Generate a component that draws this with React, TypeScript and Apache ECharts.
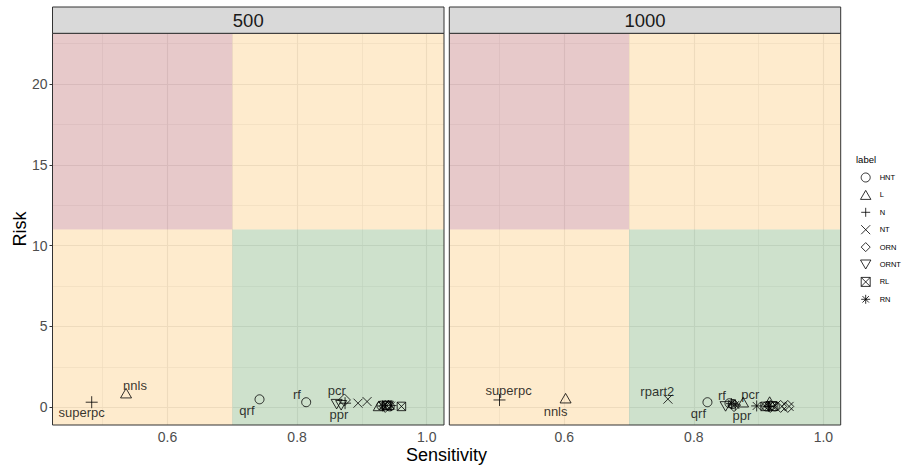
import React, { useEffect, useRef } from 'react';
import * as echarts from 'echarts';

// ---------------- data ----------------
const panels = ['500', '1000'];
const shapeLabels = ['HNT', 'L', 'N', 'NT', 'ORN', 'ORNT', 'RL', 'RN'];

const xTickLabels = [0.6, 0.8, 1.0];
const yTickLabels = [0, 5, 10, 15, 20];
const xGridMajor = [0.6, 0.8, 1.0];
const xGridMinor = [0.5, 0.7, 0.9];
const yGridMajor = [0, 5, 10, 15, 20];
const yGridMinor = [2.5, 7.5, 12.5, 17.5, 22.5];

const sensThreshold = 0.7;
const riskThreshold = 11;

// panel "500"
const names500 = ['superpc', 'nnls', 'qrf', 'rf', 'pcr', 'ppr', '', '', '', '', '', '', '', '', '', '', '', '', '', '', ''];
const shapes500 = ['N', 'L', 'HNT', 'HNT', 'ORN', 'ORNT', 'ORNT', 'N', 'NT', 'NT', 'L', 'HNT', 'RN', 'NT', 'ORN', 'RL', 'ORNT', 'L', 'HNT', 'RN', 'RL'];
const sens500 = [0.483, 0.536, 0.742, 0.814, 0.873, 0.861, 0.868, 0.874, 0.894, 0.908, 0.926, 0.930, 0.932, 0.934, 0.936, 0.938, 0.940, 0.941, 0.943, 0.945, 0.961];
const risk500 = [0.31, 0.87, 0.49, 0.31, 0.45, 0.19, 0.12, 0.25, 0.25, 0.35, 0.08, 0.10, 0.08, 0.12, 0.05, 0.10, 0.08, 0.15, 0.05, 0.10, 0.05];

// panel "1000"
const names1000 = ['superpc', 'nnls', 'rpart2', 'qrf', 'rf', 'pcr', 'ppr', '', '', '', '', '', '', '', '', '', '', '', '', '', '', '', '', ''];
const shapes1000 = ['N', 'L', 'NT', 'HNT', 'HNT', 'L', 'RN', 'ORNT', 'HNT', 'RN', 'ORN', 'RN', 'L', 'RL', 'HNT', 'RN', 'ORN', 'ORNT', 'RL', 'HNT', 'ORN', 'NT', 'ORN', 'NT'];
const sens1000 = [0.500, 0.602, 0.760, 0.821, 0.855, 0.876, 0.864, 0.849, 0.860, 0.858, 0.862, 0.897, 0.917, 0.910, 0.912, 0.915, 0.918, 0.920, 0.922, 0.925, 0.934, 0.936, 0.945, 0.947];
const risk1000 = [0.45, 0.56, 0.50, 0.31, 0.25, 0.31, 0.14, 0.05, 0.20, 0.22, 0.10, 0.08, 0.35, 0.05, 0.05, 0.05, 0.05, 0.05, 0.05, 0.05, 0.05, 0.05, 0.05, 0.05];

// ---------------- layout / style ----------------
const X_MIN = 0.4225;
const X_MAX = 1.0267;
const Y_MIN = -1.1;
const Y_MAX = 23.14;

const FONT = '"Liberation Sans", Arial, Helvetica, sans-serif';

const gridBoxes = [
  { left: 52.5, top: 33.3, width: 391.5, height: 391.7 },
  { left: 449.3, top: 33.3, width: 391.4, height: 391.7 },
];
const STRIP_TOP = 7;

const labelOffsets: Record<string, [number, number]> = {
  '500|superpc': [-10, 10.5],
  '500|nnls': [9, -7.6],
  '500|qrf': [-12.6, 11.4],
  '500|rf': [-9.3, -7.3],
  '500|pcr': [-7.6, -9.3],
  '500|ppr': [2.3, 10.7],
  '1000|superpc': [9, -9.3],
  '1000|nnls': [-10, 13.4],
  '1000|rpart2': [-10.6, -7.6],
  '1000|qrf': [-9, 11],
  '1000|rf': [-7.6, -7.3],
  '1000|pcr': [7.3, -7.3],
  '1000|ppr': [6.7, 10.7],
};

const symbolOf: Record<string, { symbol: string; size: number }> = {
  HNT: { symbol: 'circle', size: 9 },
  L: { symbol: 'path://M0,-1L0.866,0.5L-0.866,0.5Z', size: 11 },
  N: { symbol: 'path://M-1,0L1,0M0,-1L0,1', size: 12 },
  NT: { symbol: 'path://M-1,-1L1,1M-1,1L1,-1', size: 9 },
  ORN: { symbol: 'path://M0,-1L1,0L0,1L-1,0Z', size: 12 },
  ORNT: { symbol: 'path://M0,1L0.866,-0.5L-0.866,-0.5Z', size: 11 },
  RL: { symbol: 'path://M-1,-1L1,-1L1,1L-1,1ZM-1,-1L1,1M-1,1L1,-1', size: 8.5 },
  RN: { symbol: 'path://M-1,0L1,0M0,-1L0,1M-0.72,-0.72L0.72,0.72M-0.72,0.72L0.72,-0.72', size: 11 },
};

function buildOption() {
  const panelData = [
    { names: names500, shapes: shapes500, sens: sens500, risk: risk500 },
    { names: names1000, shapes: shapes1000, sens: sens1000, risk: risk1000 },
  ];

  const series: any[] = [];
  panels.forEach((p, i) => {
    // grid lines
    const lines: any[] = [];
    xGridMajor.forEach((v) => lines.push({ xAxis: v, lineStyle: { color: '#EBEBEB', width: 1.1, type: 'solid' } }));
    xGridMinor.forEach((v) => lines.push({ xAxis: v, lineStyle: { color: '#EBEBEB', width: 0.6, type: 'solid' } }));
    yGridMajor.forEach((v) => lines.push({ yAxis: v, lineStyle: { color: '#EBEBEB', width: 1.1, type: 'solid' } }));
    yGridMinor.forEach((v) => lines.push({ yAxis: v, lineStyle: { color: '#EBEBEB', width: 0.6, type: 'solid' } }));
    series.push({
      type: 'scatter',
      name: '__grid' + i,
      xAxisIndex: i,
      yAxisIndex: i,
      data: [],
      silent: true,
      z: 1,
      markLine: { silent: true, z: 1, symbol: ['none', 'none'], label: { show: false }, data: lines, animation: false },
    });
    // regions
    series.push({
      type: 'scatter',
      name: '__region' + i,
      xAxisIndex: i,
      yAxisIndex: i,
      data: [],
      silent: true,
      z: 2,
      markArea: {
        silent: true,
        z: 2,
        animation: false,
        data: [
          [{ coord: [X_MIN, riskThreshold], itemStyle: { color: 'rgba(160,40,45,0.25)' } }, { coord: [sensThreshold, Y_MAX] }],
          [{ coord: [sensThreshold, riskThreshold], itemStyle: { color: 'rgba(250,155,5,0.2)' } }, { coord: [X_MAX, Y_MAX] }],
          [{ coord: [X_MIN, Y_MIN], itemStyle: { color: 'rgba(250,155,5,0.2)' } }, { coord: [sensThreshold, riskThreshold] }],
          [{ coord: [sensThreshold, Y_MIN], itemStyle: { color: 'rgba(59,135,51,0.25)' } }, { coord: [X_MAX, riskThreshold] }],
        ],
      },
    });
    // points by shape
    const d = panelData[i];
    shapeLabels.forEach((s) => {
      const items: any[] = [];
      d.shapes.forEach((sh, k) => {
        if (sh !== s) return;
        const nm = d.names[k];
        const item: any = { value: [d.sens[k], d.risk[k]], name: nm };
        if (nm) {
          item.label = { show: true, offset: labelOffsets[p + '|' + nm] || [0, -10] };
        }
        items.push(item);
      });
      series.push({
        type: 'scatter',
        name: s,
        xAxisIndex: i,
        yAxisIndex: i,
        z: 5,
        symbol: symbolOf[s].symbol,
        symbolSize: symbolOf[s].size,
        symbolKeepAspect: true,
        itemStyle: { color: 'rgba(0,0,0,0)', borderColor: '#000', borderWidth: 1 },
        label: {
          show: false,
          position: 'inside',
          formatter: '{b}',
          color: '#000',
          fontSize: 13,
          fontFamily: FONT,
        },
        emphasis: { disabled: true },
        data: items,
      });
    });
  });

  const xAxis = panels.map((_, i) => ({
    type: 'value',
    gridIndex: i,
    min: X_MIN,
    max: X_MAX,
    axisLine: { show: false },
    splitLine: { show: false },
    axisTick: { show: true, length: 3, lineStyle: { color: '#333', width: 1 }, customValues: xTickLabels },
    axisLabel: {
      customValues: xTickLabels,
      color: '#4D4D4D',
      fontSize: 14,
      fontFamily: FONT,
      margin: 5,
      formatter: (v: number) => v.toFixed(1),
    },
  }));
  const yAxis = panels.map((_, i) => ({
    type: 'value',
    gridIndex: i,
    min: Y_MIN,
    max: Y_MAX,
    axisLine: { show: false },
    splitLine: { show: false },
    axisTick: { show: i === 0, length: 3, lineStyle: { color: '#333', width: 1 }, customValues: yTickLabels },
    axisLabel: {
      show: i === 0,
      customValues: yTickLabels,
      color: '#4D4D4D',
      fontSize: 14,
      fontFamily: FONT,
      margin: 5,
      formatter: (v: number) => String(v),
    },
  }));

  const graphic: any[] = [];
  panels.forEach((p, i) => {
    const g = gridBoxes[i];
    graphic.push({
      type: 'rect',
      z: 100,
      silent: true,
      shape: { x: g.left, y: g.top, width: g.width, height: g.height },
      style: { fill: 'none', stroke: '#333', lineWidth: 1 },
    });
    graphic.push({
      type: 'rect',
      z: 100,
      silent: true,
      shape: { x: g.left, y: STRIP_TOP, width: g.width, height: g.top - STRIP_TOP },
      style: { fill: '#D9D9D9', stroke: '#333', lineWidth: 1 },
    });
    graphic.push({
      type: 'text',
      z: 101,
      silent: true,
      x: g.left + g.width / 2,
      y: STRIP_TOP + (g.top - STRIP_TOP) / 2 + 0.5,
      style: { text: p, fill: '#1A1A1A', font: `18.5px ${FONT}`, textAlign: 'center', textVerticalAlign: 'middle' },
    });
  });
  graphic.push({
    type: 'text',
    silent: true,
    x: 446.6,
    y: 455,
    style: { text: 'Sensitivity', fill: '#000', font: `18px ${FONT}`, textAlign: 'center', textVerticalAlign: 'middle' },
  });
  graphic.push({
    type: 'text',
    silent: true,
    x: 20,
    y: 229,
    rotation: Math.PI / 2,
    style: { text: 'Risk', fill: '#000', font: `18px ${FONT}`, textAlign: 'center', textVerticalAlign: 'middle' },
  });
  graphic.push({
    type: 'text',
    silent: true,
    x: 856,
    y: 159,
    style: { text: 'label', fill: '#000', font: `9.5px ${FONT}`, textAlign: 'left', textVerticalAlign: 'middle' },
  });

  return {
    animation: false,
    backgroundColor: '#fff',
    textStyle: { fontFamily: FONT },
    grid: gridBoxes.map((g) => ({ ...g, containLabel: false })),
    xAxis,
    yAxis,
    legend: {
      data: shapeLabels,
      orient: 'vertical',
      left: 855,
      top: 167.5,
      padding: 5,
      itemWidth: 18,
      itemHeight: 9,
      itemGap: 7.4,
      selectedMode: false,
      textStyle: { fontSize: 7.5, color: '#000', fontFamily: FONT },
      itemStyle: { color: 'rgba(0,0,0,0)', borderColor: '#000', borderWidth: 1 },
    },
    graphic,
    series,
  };
}

export default function App() {
  const ref = useRef<HTMLDivElement>(null);
  useEffect(() => {
    if (!ref.current) return;
    const chart = echarts.init(ref.current, undefined, { renderer: 'svg' });
    chart.setOption(buildOption() as any);
    return () => chart.dispose();
  }, []);
  return (
    <div
      ref={ref}
      style={{ position: 'fixed', left: 0, top: 0, width: 906, height: 465, background: '#fff' }}
    />
  );
}
